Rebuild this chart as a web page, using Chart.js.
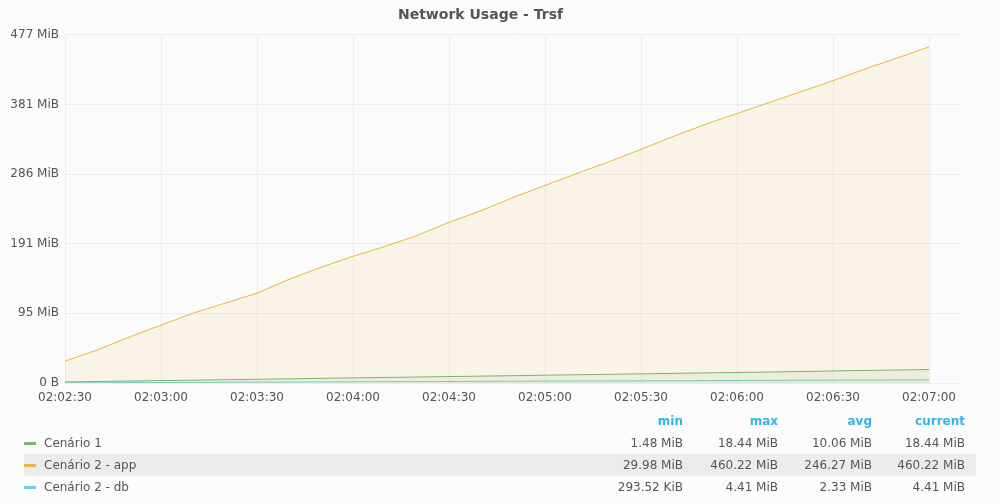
<!DOCTYPE html>
<html>
<head>
<meta charset="utf-8">
<script src="https://cdn.jsdelivr.net/npm/chart.js@4/dist/chart.umd.min.js"></script>
<style>
  html, body { margin: 0; padding: 0; background: #fbfbfb; }
  body { width: 1000px; height: 504px; position: relative; overflow: hidden; font-family: "DejaVu Sans", sans-serif; }
  #wrap { position: absolute; left: 0; top: 0; width: 1000px; height: 412px; }
  #legend { position: absolute; left: 0; top: 410px; width: 1000px; font-size: 12px; color: #555; }
  .row { position: absolute; left: 24px; width: 952px; height: 22px; line-height: 22px; }
  .row.hl { background: #ececec; }
  .sw { position: absolute; left: 0; top: 10px; width: 12px; height: 3px; }
  .name { position: absolute; left: 20px; top: 0; white-space: nowrap; }
  .val { position: absolute; top: 0; text-align: right; white-space: nowrap; }
  .hdr { color: #33b5e5; font-weight: bold; }
</style>
</head>
<body>
<div id="wrap"><canvas id="c" width="1000" height="412"></canvas></div>
<div id="legend"></div>
<script>
// ---- data ----
const title = "Network Usage - Trsf";
const times = ["02:02:30","02:02:40","02:02:50","02:03:00","02:03:10","02:03:20","02:03:30","02:03:40","02:03:50","02:04:00",
               "02:04:10","02:04:20","02:04:30","02:04:40","02:04:50","02:05:00","02:05:10","02:05:20","02:05:30","02:05:40",
               "02:05:50","02:06:00","02:06:10","02:06:20","02:06:30","02:06:40","02:06:50","02:07:00"];
const seriesNames = ["Cenário 1", "Cenário 2 - app", "Cenário 2 - db"];
const seriesColors = ["#7eb26d", "#eab839", "#6ed0e0"];
// values in MiB
const cenario1 = [1.48, 2.1, 2.7, 3.3, 3.9, 4.5, 5.1, 5.7, 6.4, 7.0, 7.6, 8.2, 8.8, 9.4, 10.0, 10.7, 11.3, 11.9, 12.5, 13.2,
                  13.8, 14.4, 15.0, 15.7, 16.5, 17.2, 17.8, 18.44];
const cenario2App = [29.98, 45.1, 62.8, 79.2, 95.6, 109.3, 123.0, 142.0, 158.5, 173.5, 187.0, 202.0, 220.0, 236.0, 254.0, 270.5,
                     287.0, 303.0, 320.0, 337.5, 354.0, 369.0, 384.0, 399.0, 414.0, 430.0, 445.0, 460.22];
const cenario2Db = [0.29, 0.44, 0.6, 0.75, 0.9, 1.05, 1.2, 1.35, 1.5, 1.65, 1.8, 1.95, 2.1, 2.25, 2.4, 2.55, 2.7, 2.85, 3.0, 3.15,
                    3.3, 3.45, 3.6, 3.8, 3.95, 4.1, 4.25, 4.41];
const yTickValues = [0, 95.367, 190.735, 286.102, 381.470, 476.837];
const yTickLabels = ["0 B", "95 MiB", "191 MiB", "286 MiB", "381 MiB", "477 MiB"];
const xTickLabels = ["02:02:30","02:03:00","02:03:30","02:04:00","02:04:30","02:05:00","02:05:30","02:06:00","02:06:30","02:07:00"];
const xRange = ["02:02:30", "02:07:10"];
const legendHeaders = ["min", "max", "avg", "current"];
const legendMin = ["1.48 MiB", "29.98 MiB", "293.52 KiB"];
const legendMax = ["18.44 MiB", "460.22 MiB", "4.41 MiB"];
const legendAvg = ["10.06 MiB", "246.27 MiB", "2.33 MiB"];
const legendCurrent = ["18.44 MiB", "460.22 MiB", "4.41 MiB"];

// ---- helpers ----
function toSec(t) { const p = t.split(":").map(Number); return p[0]*3600 + p[1]*60 + p[2]; }
function hexA(hex, a) {
  const n = parseInt(hex.slice(1), 16);
  return `rgba(${(n>>16)&255},${(n>>8)&255},${n&255},${a})`;
}
const allSeries = [cenario1, cenario2App, cenario2Db];
const datasets = allSeries.map((vals, i) => ({
  label: seriesNames[i],
  data: vals.map((v, k) => ({ x: toSec(times[k]), y: v })),
  borderColor: seriesColors[i],
  backgroundColor: hexA(seriesColors[i], 0.1),
  borderWidth: 1,
  pointRadius: 0,
  tension: 0,
  fill: 'origin'
}));

const gridColor = "#ececec";
const textColor = "#555";
Chart.defaults.font.family = "'DejaVu Sans', sans-serif";
Chart.defaults.font.size = 12;
Chart.defaults.color = textColor;

new Chart(document.getElementById('c'), {
  type: 'line',
  data: { datasets },
  options: {
    responsive: false,
    animation: false,
    events: [],
    layout: { padding: { left: 0, right: 39, top: 0, bottom: 0 } },
    plugins: {
      legend: { display: false },
      tooltip: { enabled: false },
      title: {
        display: true, text: title, color: textColor,
        font: { size: 14, weight: 'bold' },
        padding: { top: 7, bottom: 11 }
      }
    },
    scales: {
      x: {
        type: 'linear',
        min: toSec(xRange[0]), max: toSec(xRange[1]),
        grid: { color: gridColor, drawTicks: false },
        border: { display: true, color: gridColor },
        afterBuildTicks: (s) => { s.ticks = xTickLabels.map(l => ({ value: toSec(l) })); },
        ticks: {
          padding: 8, maxRotation: 0, autoSkip: false,
          callback: (v) => { const i = xTickLabels.findIndex(l => toSec(l) === v); return i >= 0 ? xTickLabels[i] : ''; }
        },
        afterFit: (s) => { s.height = 29; }
      },
      y: {
        min: 0, max: yTickValues[yTickValues.length - 1],
        grid: { color: gridColor, drawTicks: false },
        border: { display: true, color: gridColor },
        afterBuildTicks: (s) => { s.ticks = yTickValues.map(v => ({ value: v })); },
        ticks: {
          padding: 6, autoSkip: false,
          callback: (v) => { const i = yTickValues.indexOf(v); return i >= 0 ? yTickLabels[i] : ''; }
        },
        afterFit: (s) => { s.width = 65; }
      }
    }
  }
});

// ---- legend table ----
const leg = document.getElementById('legend');
const colRight = [683, 778, 872, 965];
function addRow(top, cls) {
  const r = document.createElement('div');
  r.className = 'row' + (cls ? ' ' + cls : '');
  r.style.top = top + 'px';
  leg.appendChild(r);
  return r;
}
function addVal(row, text, right, extra) {
  const d = document.createElement('div');
  d.className = 'val' + (extra ? ' ' + extra : '');
  d.textContent = text;
  d.style.right = (24 + 952 - right) + 'px';
  row.appendChild(d);
}
const hdr = addRow(0, '');
legendHeaders.forEach((h, j) => addVal(hdr, h, colRight[j], 'hdr'));
const cols = [legendMin, legendMax, legendAvg, legendCurrent];
seriesNames.forEach((name, i) => {
  const r = addRow(22 + i * 22, i === 1 ? 'hl' : '');
  const sw = document.createElement('div');
  sw.className = 'sw'; sw.style.background = seriesColors[i];
  r.appendChild(sw);
  const n = document.createElement('div');
  n.className = 'name'; n.textContent = name;
  r.appendChild(n);
  cols.forEach((c, j) => addVal(r, c[i], colRight[j]));
});
</script>
</body>
</html>
